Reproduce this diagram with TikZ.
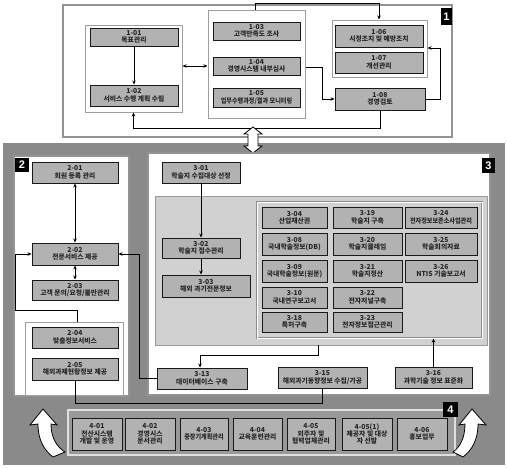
\documentclass[tikz,border=0pt]{standalone}
\usepackage{fontspec}
\newfontfamily\kr{Noto Sans CJK KR}
\newfontfamily\labfont{Liberation Sans}
\usetikzlibrary{arrows.meta}
\tikzset{
 pbx/.style={draw=black!90, line width=0.9pt, fill=gray!60, font=\kr\bfseries\fontsize{6.8}{7.4}\selectfont, align=center, inner sep=0pt, text=black!85},
 grpbox/.style={draw=gray!75, line width=1pt, fill=white, inner sep=0pt},
 bigbox/.style={draw=gray!85, line width=1.2pt, fill=white, inner sep=0pt},
 bgbox/.style={fill=gray!92, draw=none, inner sep=0pt},
 panelbox/.style={fill=gray!36, draw=gray!80, line width=0.8pt, inner sep=0pt},
 gridbox/.style={fill=gray!36, draw=gray!90, line width=1pt, double=white, double distance=0.8pt, inner sep=0pt},
 frame4/.style={fill=gray!80, draw=gray!25, line width=1.2pt, inner sep=0pt},
 lab/.style={fill=black, text=white, font=\labfont\bfseries\fontsize{11}{11}\selectfont, inner sep=0pt},
 conn/.style={line width=0.9pt, draw=black},
 arr/.style={conn, -{Stealth[length=4pt,width=3.5pt]}},
 darr/.style={conn, {Stealth[length=4pt,width=3.5pt]}-{Stealth[length=4pt,width=3.5pt]}},
 hollow/.style={fill=white, draw=black, line width=0.8pt},
}
\newcommand\bx[7]{\node[#1, minimum width={(#5-#3)*1pt}, minimum height={(#6-#4)*1pt}] (#2) at ({(#3+#5)/2},{(#4+#6)/2}) {#7};}
\newcommand\narrow[1]{\scalebox{0.9}[1]{#1}}
\begin{document}
\begin{tikzpicture}[x=1pt,y=-1pt]
\useasboundingbox (0,0) rectangle (507,467);
% ---------- part 1
\bx{bigbox}{box1}{63}{5}{452}{137}{}
\bx{lab}{lab1}{441}{8}{452}{25}{1}
\bx{grpbox}{g1a}{85}{25}{182}{112}{}
\bx{pbx}{b101}{90}{28}{178}{46}{1-01\\목표관리}
\bx{pbx}{b102}{90}{85}{178}{106}{1-02\\서비스 수행 계획 수립}
\bx{grpbox}{g1b}{208}{10}{305}{118}{}
\bx{pbx}{b103}{213}{22}{300}{40}{1-03\\고객만족도 조사}
\bx{pbx}{b104}{213}{57}{300}{75}{1-04\\경영시스템 내부심사}
\bx{pbx}{b105}{213}{88}{300}{107}{1-05\\\narrow{업무수행과정/결과 모니터링}}
\bx{grpbox}{g1c}{332}{20}{427}{77}{}
\bx{pbx}{b106}{335}{25}{423}{47}{1-06\\시정조치 및 예방조치}
\bx{pbx}{b107}{335}{52}{423}{73}{1-07\\개선관리}
\bx{pbx}{b108}{335}{88}{425}{110}{1-08\\경영검토}
\draw[arr] (b101) -- (b102);
\draw[darr] (g1a.east |- 0,66) -- (g1b.west |- 0,66);
\draw[arr] (g1b.east |- 0,67) -- (322,67) -- (322,99) -- (b108.west);
\draw[arr] (b108.east) -- (440,99) -- (440,48) -- (g1c.east |- 0,48);
\draw[arr] (b108.south) -- (b108.south |- 0,128) -- (g1a.south |- 0,128) -- (g1a.south);
\draw[arr] (g1b.north -| 255,0) -- (255,3.5) -- (379,3.5) -- (g1c.north -| 379,0);
% ---------- lower background
\bx{bgbox}{bg}{3}{143}{505}{465}{}
\draw[hollow] (253,127) -- (262,134) -- (258,134) -- (258,146) -- (262,146) -- (253,153) -- (244,146) -- (248,146) -- (248,134) -- (244,134) -- cycle;
% ---------- part 2
\bx{bigbox}{box2}{14}{156}{129}{396}{}
\bx{lab}{lab2}{15}{158}{29}{172}{2}
\bx{pbx}{b201}{32}{162}{118}{183}{2-01\\회원 등록 관리}
\bx{pbx}{b202}{32}{243}{118}{265}{2-02\\전문서비스 제공}
\bx{pbx}{b203}{32}{280}{118}{300}{2-03\\고객 문의/요청/불만관리}
\bx{grpbox}{g24}{25}{322}{123}{395}{}
\bx{pbx}{b204}{32}{327}{118}{348}{2-04\\맞춤정보서비스}
\bx{pbx}{b205}{32}{358}{118}{380}{2-05\\해외과제현황정보 제공}
% ---------- part 3
\bx{bigbox}{box3}{148}{153}{490}{395}{}
\bx{lab}{lab3}{482}{158}{495}{173}{3}
\bx{panelbox}{panel}{155}{196}{487}{345}{}
\bx{gridbox}{grid}{257}{202}{482}{338}{}
\bx{pbx}{b301}{162}{162}{240}{183}{3-01\\학술지 수집대상 선정}
\bx{pbx}{b302}{162}{238}{240}{258}{3-02\\학술지 접수관리}
\bx{pbx}{b303}{162}{275}{250}{297}{3-03\\해외 과기전문정보}
\bx{pbx}{b304}{262}{207}{327}{228}{3-04\\산업재산권}
\bx{pbx}{b308}{262}{233}{327}{255}{3-08\\국내학술정보(DB)}
\bx{pbx}{b309}{262}{260}{327}{282}{3-09\\국내학술정보(원문)}
\bx{pbx}{b310}{262}{287}{327}{308}{3-10\\국내연구보고서}
\bx{pbx}{b318}{262}{312}{327}{332}{3-18\\특허구축}
\bx{pbx}{b319}{333}{207}{402}{228}{3-19\\학술지 구축}
\bx{pbx}{b320}{333}{233}{402}{255}{3-20\\학술지클레임}
\bx{pbx}{b321}{333}{260}{402}{282}{3-21\\학술지정산}
\bx{pbx}{b322}{333}{287}{402}{308}{3-22\\전자저널구축}
\bx{pbx}{b323}{333}{312}{402}{332}{3-23\\전자정보접근관리}
\bx{pbx}{b324}{405}{207}{477}{228}{3-24\\\narrow{전자정보보존소사업관리}}
\bx{pbx}{b325}{405}{233}{477}{255}{3-25\\학술회의자료}
\bx{pbx}{b326}{405}{260}{477}{282}{3-26\\NTIS 기술보고서}
\bx{pbx}{b313}{157}{368}{247}{389}{3-13\\데이터베이스 구축}
\bx{pbx}{b315}{278}{367}{367}{388}{3-15\\해외과기동향정보 수집/가공}
\bx{pbx}{b316}{395}{367}{472}{388}{3-16\\과학기술 정보 표준화}
% ---------- part 4
\bx{frame4}{box4}{68}{410}{455}{455}{}
\bx{lab}{lab4}{443}{402}{458}{417}{4}
\bx{pbx}{b401}{72}{418}{122}{450}{4-01\\전산시스템\\개발 및 운영}
\bx{pbx}{b402}{125}{418}{175}{450}{4-02\\경영시스\\문서관리}
\bx{pbx}{b403}{180}{418}{228}{450}{4-03\\\narrow{중장기계획관리}}
\bx{pbx}{b404}{233}{418}{282}{450}{4-04\\교육훈련관리}
\bx{pbx}{b405}{287}{418}{335}{450}{4-05\\외주자 및\\협력업체관리}
\bx{pbx}{b4051}{342}{418}{392}{450}{4-05(1)\\제공자 및 대상\\자 선발}
\bx{pbx}{b406}{397}{418}{447}{450}{4-06\\홍보업무}
% ---------- curved hollow arrows
\draw[hollow] (43,409) -- (57,425) -- (51,424) .. controls (51,438) and (57,447) .. (65,452) -- (53,457) .. controls (44,450) and (38,440) .. (38,424) -- (30,425) -- cycle;
\draw[hollow] (472,409) -- (486,425) -- (478,424) .. controls (478,440) and (472,450) .. (463,457) -- (453,452) .. controls (460,447) and (465,438) .. (465,424) -- (459,425) -- cycle;
% ---------- lower connectors
\draw[darr] (b201) -- (b202);
\draw[darr] (b202) -- (b203);
\draw[arr] (g24.north -| 77,0) -- (77,310) -- (15,310) -- (15,254) -- (b202.west);
\draw[arr] (b313.west) -- (139,378.5) -- (139,254) -- (b202.east);
\draw[conn] (b205.south) -- (75,403) -- (322.5,403) -- (b315.south);
\draw[arr] (b301) -- (b302);
\draw[arr] (b302.south) -- (b302.south |- b303.north);
\draw[arr] (panel.south -| 318,0) -- (318,355) -- (200,355) -- (b313.north -| 200,0);
\draw[arr] (b316.north) -- (b316.north |- grid.south);
\end{tikzpicture}
\end{document}
